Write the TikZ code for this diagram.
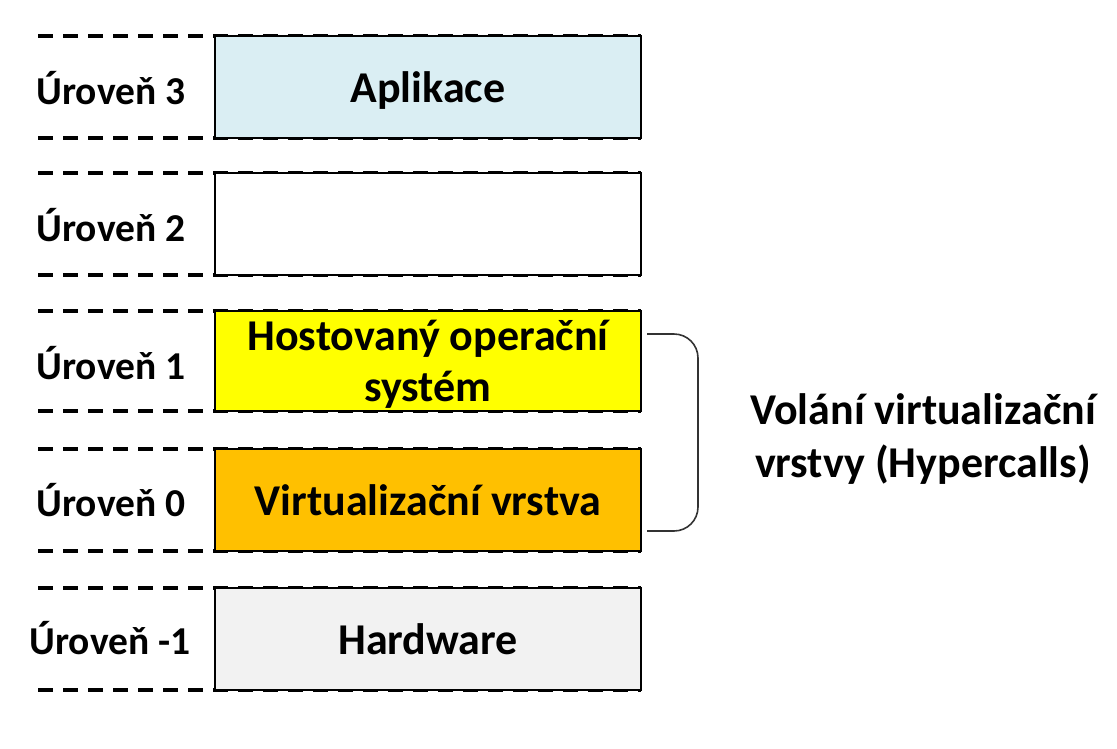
\documentclass[tikz,border=0pt]{standalone}
\usepackage{fontspec}
\setmainfont{Carlito}
\usepackage{xcolor}
\usetikzlibrary{positioning}

\definecolor{appblue}{HTML}{DAEEF3}
\definecolor{osyellow}{HTML}{FFFF00}
\definecolor{vmmorange}{HTML}{FFC000}
\definecolor{hwgray}{HTML}{F2F2F2}

\begin{document}
\begin{tikzpicture}[x=1pt, y=-1pt,
    layer/.style={draw=black, line width=1.8pt, minimum width=426pt, minimum height=102pt,
      inner sep=1pt, text depth=0pt, align=center, font=\fontsize{44}{51}\selectfont\bfseries},
    lvl/.style={font=\fontsize{39.5}{46}\selectfont\bfseries},
    sep/.style={line width=3.2pt, dash pattern=on 15pt off 10pt}]
  \useasboundingbox (0,0) rectangle (1117,748);
  % dividing lines between levels
  \foreach \y in {36,138,173,275,311,411,449,551,588,690}
    \draw[sep] (38,\y) -- (641,\y);
  % layers
  \node[layer, fill=appblue] (app) at (428,87) {Aplikace};
  \node[layer, fill=white] (guest) at (428,224) {};
  \node[layer, fill=osyellow, minimum height=100pt] (os) at (428,361) {Hostovaný operační\\systém};
  \node[layer, fill=vmmorange] (vmm) at (428,500) {Virtualizační vrstva};
  \node[layer, fill=hwgray] (hw) at (428,639) {Hardware};
  % level labels
  \node[lvl] (l3) at (111,88) {Úroveň 3};
  \node[lvl] (l2) at (111,225) {Úroveň 2};
  \node[lvl] (l1) at (111,363) {Úroveň 1};
  \node[lvl] (l0) at (111,500) {Úroveň 0};
  \node[lvl] (lm1) at (110,638) {Úroveň -1};
  % hypercall bracket
  \coordinate (bt) at (647,334);
  \coordinate (bb) at (647,531);
  \draw[line width=1.6pt, black!80, rounded corners=24pt] (bt) -- (698,334) -- (698,531) -- (bb);
  \node[align=center, font=\fontsize{44}{53}\selectfont\bfseries] (hc) at (923,439)
    {Volání virtualizační\\vrstvy (Hypercalls)};
\end{tikzpicture}
\end{document}
